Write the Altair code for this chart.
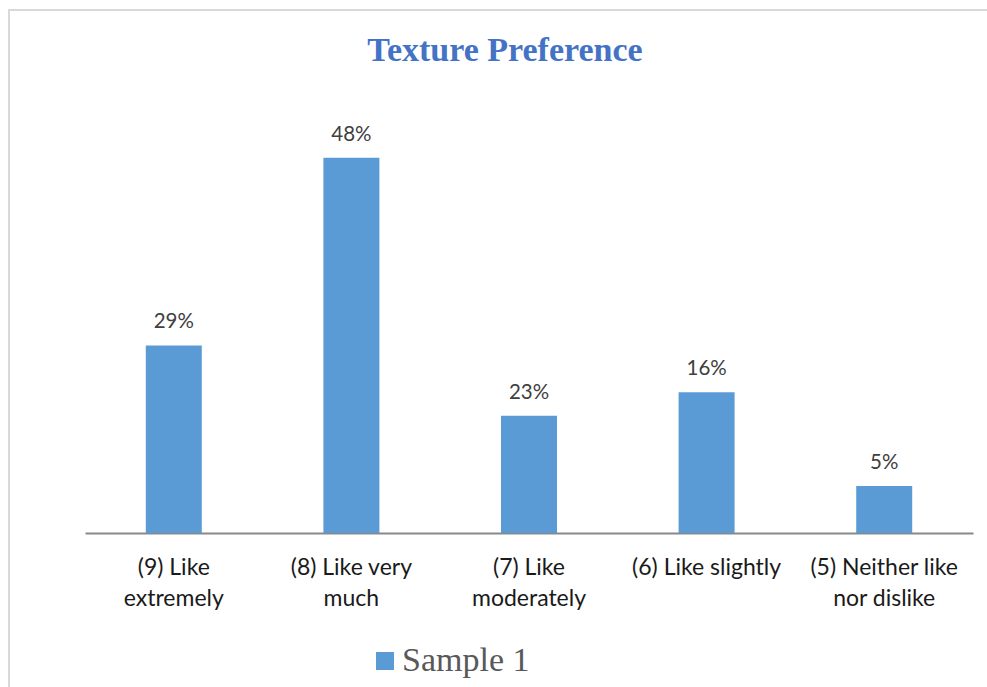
import altair as alt
import pandas as pd

categories = [
    "(9) Like\nextremely",
    "(8) Like very\nmuch",
    "(7) Like\nmoderately",
    "(6) Like slightly",
    "(5) Neither like\nnor dislike",
]
bar_values = [16, 32, 10, 12, 4]
value_labels = ["29%", "48%", "23%", "16%", "5%"]
series_name = "Sample 1"
chart_title = "Texture Preference"

df = pd.DataFrame({
    "category": categories,
    "value": bar_values,
    "label": value_labels,
    "series": [series_name] * len(categories),
})

LEFT, TOP = 85, 64
W, H = 888, 469

x_enc = alt.X(
    "category:N",
    sort=categories,
    scale=alt.Scale(paddingInner=0, paddingOuter=0),
    axis=alt.Axis(
        title=None,
        labelAngle=0,
        ticks=False,
        domainColor="#898989",
        domainWidth=2,
        labelFont="Lato",
        labelFontSize=23,
        labelColor="#1a1a1a",
        labelPadding=23,
        labelBaseline="top",
        labelLineHeight=31,
        labelExpr="split(datum.label, '\\n')",
        grid=False,
    ),
)
y_enc = alt.Y("value:Q", scale=alt.Scale(domain=[0, 40]), axis=None)

bars = alt.Chart(df).mark_bar(width=56).encode(
    x=x_enc,
    y=y_enc,
    color=alt.Color(
        "series:N",
        scale=alt.Scale(domain=[series_name], range=["#5B9BD5"]),
        legend=alt.Legend(
            title=None,
            orient="none",
            legendX=283,
            legendY=580,
            symbolType="square",
            symbolSize=324,
            symbolStrokeWidth=0,
            symbolOpacity=1,
            labelFont="Liberation Serif",
            labelFontSize=34,
            labelColor="#595959",
            labelOffset=0,
            padding=0,
        ),
    ),
)

texts = alt.Chart(df).mark_text(
    baseline="alphabetic", dy=-17, font="Lato", fontSize=20.5, color="#404040"
).encode(x=alt.X("category:N", sort=categories), y=y_enc, text="label:N")

single = pd.DataFrame({"title": [chart_title]})
title_text = alt.Chart(single).mark_text(
    font="Liberation Serif", fontSize=34, fontWeight="bold", color="#4472C4",
    align="center", baseline="alphabetic",
).encode(x=alt.value(505 - LEFT), y=alt.value(61 - TOP), text="title:N")

left_border = alt.Chart(single).mark_rule(color="#d9d9d9", strokeWidth=2).encode(
    x=alt.value(9 - LEFT), y=alt.value(9 - TOP), y2=alt.value(700 - TOP)
)
top_border = alt.Chart(single).mark_rule(color="#d9d9d9", strokeWidth=2).encode(
    x=alt.value(8 - LEFT), x2=alt.value(1000 - LEFT), y=alt.value(10 - TOP)
)

chart = alt.layer(left_border, top_border, title_text, bars, texts).properties(
    width=W,
    height=H,
    background="white",
    autosize=alt.AutoSizeParams(type="none"),
    padding={"left": LEFT, "top": TOP, "right": 987 - LEFT - W, "bottom": 687 - TOP - H},
).configure_view(strokeWidth=0, stroke=None)

chart.save("out.html", embed_options={"renderer": "svg", "actions": False})
